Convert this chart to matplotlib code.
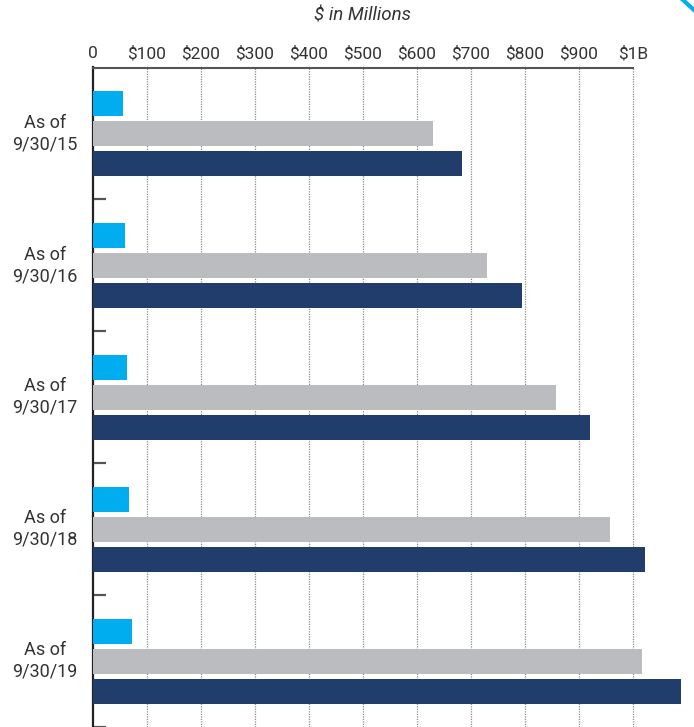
import matplotlib
matplotlib.use("Agg")
import matplotlib.pyplot as plt
from matplotlib.lines import Line2D

# ---- data ($ in millions) ----
categories = ["As of\n9/30/15", "As of\n9/30/16", "As of\n9/30/17", "As of\n9/30/18", "As of\n9/30/19"]
series_blue = [56, 60, 64, 68, 73]
series_gray = [630, 730, 858, 958, 1017]
series_navy = [684, 795, 921, 1023, 1089]
x_ticks = [0, 100, 200, 300, 400, 500, 600, 700, 800, 900, 1000]
x_ticklabels = ["0", "$100", "$200", "$300", "$400", "$500", "$600", "$700", "$800", "$900", "$1B"]
axis_title = "$ in Millions"

FAM = ["Roboto", "DejaVu Sans"]
plt.rcParams["font.family"] = FAM

W, H = 694, 727
fig = plt.figure(figsize=(W / 100, H / 100), dpi=100)
left_px, top_px = 92.5, 67.5
ax = fig.add_axes([left_px / W, 0, (W - left_px) / W, (H - top_px) / H])

px_per_unit = 540.2 / 1000
ax.set_xlim(0, (W - left_px) / px_per_unit)
ax.set_ylim(len(categories) - 0.5, -0.5)

pitch = 30 / 132
bh = 25 / 132
ys = list(range(len(categories)))
ax.barh([y - pitch for y in ys], series_blue, height=bh, color="#00AEEF", zorder=3)
ax.barh(ys, series_gray, height=bh, color="#BBBCC0", zorder=3)
ax.barh([y + pitch for y in ys], series_navy, height=bh, color="#213D6B", zorder=3)

# grid lines
for v in x_ticks[1:]:
    ax.axvline(v, color="#8a8a8a", linestyle=(0, (1, 1)), linewidth=0.9, zorder=1)

# spines
for s in ["right", "bottom"]:
    ax.spines[s].set_visible(False)
ax.spines["top"].set_bounds(0, 1000)
ax.spines["top"].set_color("#555555")
ax.spines["top"].set_linewidth(1.5)
ax.spines["left"].set_color("#222222")
ax.spines["left"].set_linewidth(1.6)

# x ticks on top
ax.xaxis.tick_top()
ax.set_xticks(x_ticks)
ax.set_xticklabels(x_ticklabels)
ax.tick_params(axis="x", length=0, pad=4.5, labelsize=12.5, labelcolor="#333333")

# y: minor ticks at group boundaries, labels as text
ax.set_yticks([])
ax.set_yticks([y + 0.5 for y in ys], minor=True)
ax.tick_params(axis="y", which="minor", direction="in", length=9.5, width=1.6, color="#555555")
ytr = ax.get_yaxis_transform()
for y, lab in zip(ys, categories):
    ax.text(-47.5 / (W - left_px), y, lab, transform=ytr, ha="center", va="center",
            fontsize=13, color="#333333", linespacing=1.25)

# title
fig.text((left_px + 500 * px_per_unit) / W, 1 - 15.5 / H, axis_title, ha="center", va="center",
         fontsize=13.5, style="italic", color="#333333")

# decoration top-right
fig.add_artist(Line2D([683 / W, 1.0], [1.0, 1 - 10 / H], color="#00AEEF", linewidth=3,
                      transform=fig.transFigure))

fig.savefig("out.png", dpi=100)
